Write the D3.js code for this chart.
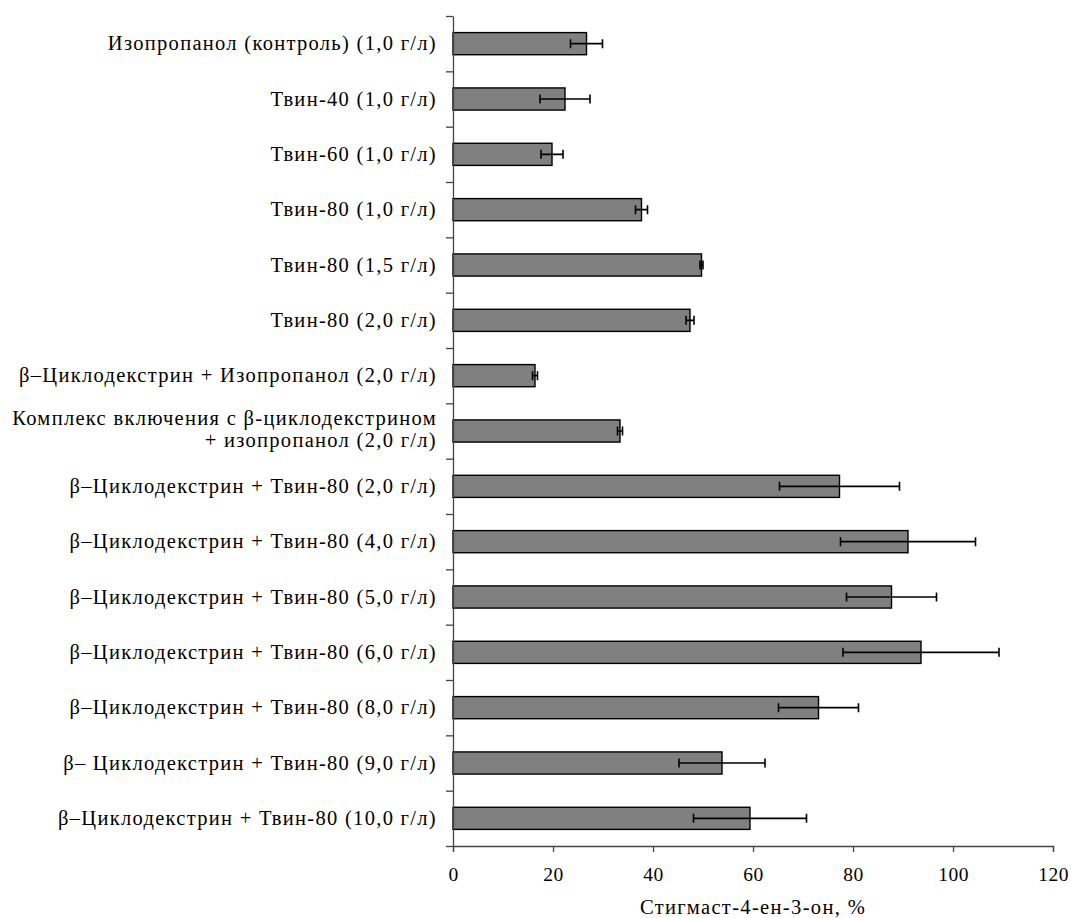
<!DOCTYPE html>
<html>
<head>
<meta charset="utf-8">
<script src="https://cdn.jsdelivr.net/npm/d3@7"></script>
<style>
  body { margin: 0; background: #fff; }
  svg text { font-family: "Liberation Serif", "Times New Roman", Times, serif; fill: #000; }
  .axis path, .axis line { stroke: #444; stroke-width: 1.3; }
  .bar { fill: #808080; stroke: #000; stroke-width: 1.4; }
  .err { stroke: #000; stroke-width: 1.6; fill: none; }
</style>
</head>
<body>
<svg width="1074" height="918"></svg>
<script>
// categories, top to bottom (multi-line labels split by \n)
const categories = [
  'Изопропанол (контроль) (1,0 г/л)',
  'Твин-40 (1,0 г/л)',
  'Твин-60 (1,0 г/л)',
  'Твин-80 (1,0 г/л)',
  'Твин-80 (1,5 г/л)',
  'Твин-80 (2,0 г/л)',
  'β–Циклодекстрин + Изопропанол (2,0 г/л)',
  'Комплекс включения с β-циклодекстрином\n+ изопропанол (2,0 г/л)',
  'β–Циклодекстрин + Твин-80 (2,0 г/л)',
  'β–Циклодекстрин + Твин-80 (4,0 г/л)',
  'β–Циклодекстрин + Твин-80 (5,0 г/л)',
  'β–Циклодекстрин + Твин-80 (6,0 г/л)',
  'β–Циклодекстрин + Твин-80 (8,0 г/л)',
  'β– Циклодекстрин + Твин-80 (9,0 г/л)',
  'β–Циклодекстрин + Твин-80 (10,0 г/л)'
];

const values = [26.7, 22.4, 19.8, 37.7, 49.7, 47.4, 16.4, 33.4, 77.3, 91.0, 87.7, 93.6, 73.1, 53.8, 59.4];
const errors = [3.2, 5.0, 2.2, 1.2, 0.3, 0.8, 0.5, 0.5, 12.0, 13.5, 9.0, 15.6, 8.0, 8.6, 11.3];

const xTicks = [0, 20, 40, 60, 80, 100, 120];
const xTitle = 'Стигмаст-4-ен-3-он, %';

const data = categories.map(function(c, i) {
  return {name: c, value: values[i], err: errors[i]};
});

const margin = {top: 16, right: 21, bottom: 72, left: 453};
const width = 1074 - margin.left - margin.right;
const height = 918 - margin.top - margin.bottom;

const x = d3.scaleLinear()
  .domain([0, 120])
  .range([0, width]);

const y = d3.scaleBand()
  .domain(categories)
  .range([0, height])
  .paddingInner(0.6)
  .paddingOuter(0.3);

// boundaries between categories for the tick marks
const yEdges = d3.scaleLinear()
  .domain([0, categories.length])
  .range([0, height]);

const svg = d3.select('svg')
  .append('g')
  .attr('transform', `translate(${margin.left}, ${margin.top})`);

svg.selectAll('.bar').data(data)
  .enter().append('rect')
  .attr('class', 'bar')
  .attr('x', 0)
  .attr('y', function(d) { return y(d.name); })
  .attr('width', function(d) { return x(d.value); })
  .attr('height', y.bandwidth());

const cap = 4.5;
const err = svg.selectAll('.errgrp').data(data)
  .enter().append('g')
  .attr('class', 'errgrp')
  .attr('transform', function(d) { return `translate(0, ${y(d.name) + y.bandwidth() / 2})`; });

err.append('path')
  .attr('class', 'err')
  .attr('d', function(d) {
    const x0 = x(d.value - d.err), x1 = x(d.value + d.err);
    return `M${x0},0H${x1}M${x0},${-cap}V${cap}M${x1},${-cap}V${cap}`;
  });

// y axis: line + ticks at category boundaries
svg.append('g')
  .attr('class', 'axis axis--y')
  .call(d3.axisLeft(yEdges)
    .tickValues(d3.range(categories.length + 1))
    .tickFormat('')
    .tickSize(7)
    .tickSizeOuter(0));

// category labels; a two-line label gets one text element per line
const labelLines = [];
data.forEach(function(d) {
  const lines = d.name.split('\n');
  lines.forEach(function(line, i) {
    labelLines.push({
      text: line,
      cy: y(d.name) + y.bandwidth() / 2 + (i - (lines.length - 1) / 2) * 22.5 - (lines.length - 1) * 1.5
    });
  });
});

svg.selectAll('.label').data(labelLines)
  .enter().append('text')
  .attr('class', 'label')
  .attr('text-anchor', 'end')
  .attr('font-size', 20.5)
  .attr('letter-spacing', 1.3)
  .attr('x', -16)
  .attr('y', function(d) { return d.cy; })
  .attr('dy', '0.32em')
  .text(function(d) { return d.text; });

// x axis
const xAxis = svg.append('g')
  .attr('class', 'axis axis--x')
  .attr('transform', `translate(0, ${height})`)
  .call(d3.axisBottom(x)
    .tickValues(xTicks)
    .tickSize(6)
    .tickSizeOuter(6));

xAxis.selectAll('text')
  .attr('font-size', 19.5)
  .attr('letter-spacing', 0.5)
  .attr('fill', '#000')
  .attr('y', 29)
  .attr('dy', '0.32em');

svg.append('text')
  .attr('text-anchor', 'middle')
  .attr('font-size', 20.5)
  .attr('letter-spacing', 1.35)
  .attr('x', width / 2)
  .attr('y', height + 61)
  .attr('dy', '0.32em')
  .text(xTitle);
</script>
</body>
</html>
